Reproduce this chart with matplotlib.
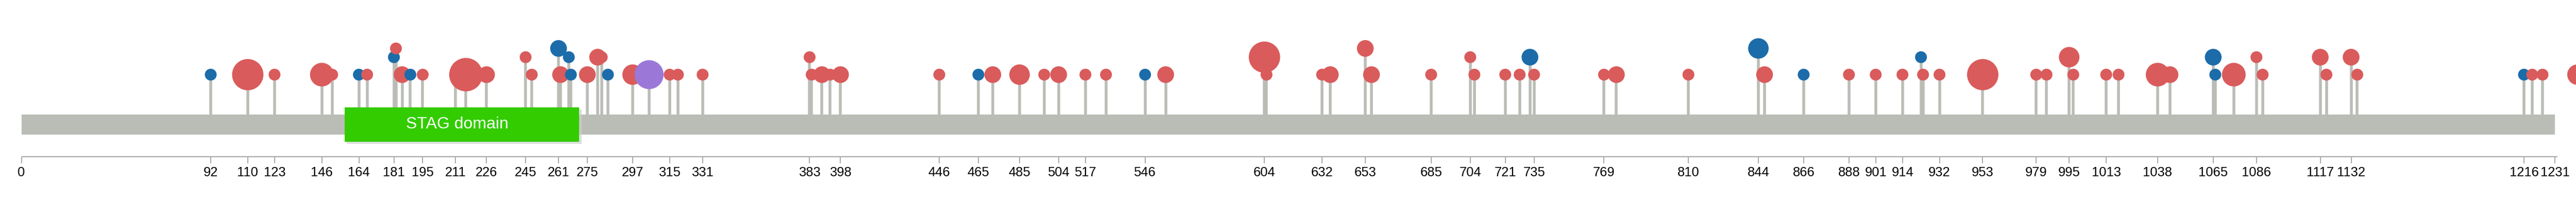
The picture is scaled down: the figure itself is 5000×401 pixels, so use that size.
import numpy as np
import matplotlib
matplotlib.use("Agg")
import matplotlib.pyplot as plt
from matplotlib.patches import Rectangle

# mutation positions, stack level (1 = lowest), sample count, type
positions = [92, 110, 123, 146, 151, 164, 168, 181, 182, 185, 189, 195, 211, 216, 226,
             245, 248, 261, 262, 266, 267, 275, 280, 282, 285, 297, 305, 315, 319, 331,
             383, 384, 389, 393, 398, 446, 465, 472, 485, 497, 504, 517, 527, 546, 556,
             604, 605, 632, 636, 653, 656, 685, 704, 706, 721, 728, 733, 735, 769, 775,
             810, 844, 847, 866, 888, 901, 914, 923, 924, 932, 953, 979, 984, 995, 997,
             1013, 1019, 1038, 1044, 1065, 1066, 1075, 1086, 1089, 1117, 1120, 1132, 1135,
             1216, 1220, 1225, 1242]
levels = [1, 1, 1, 1, 1, 1, 1, 2, 3, 1, 1, 1, 1, 1, 1,
          2, 1, 3, 1, 2, 1, 1, 2, 2, 1, 1, 1, 1, 1, 1,
          2, 1, 1, 1, 1, 1, 1, 1, 1, 1, 1, 1, 1, 1, 1,
          2, 1, 1, 1, 3, 1, 1, 2, 1, 1, 1, 2, 1, 1, 1,
          1, 3, 1, 1, 1, 1, 1, 2, 1, 1, 1, 1, 1, 2, 1,
          1, 1, 1, 1, 2, 1, 1, 2, 1, 2, 1, 2, 1,
          1, 1, 1, 1]
counts = [1, 7, 1, 4, 1, 1, 1, 1, 1, 2, 1, 1, 1, 8, 2,
          1, 1, 2, 2, 1, 1, 2, 2, 1, 1, 3, 6, 1, 1, 1,
          1, 1, 2, 1, 2, 1, 1, 2, 3, 1, 2, 1, 1, 1, 2,
          7, 1, 1, 2, 2, 2, 1, 1, 1, 1, 1, 2, 1, 1, 2,
          1, 3, 2, 1, 1, 1, 1, 1, 1, 1, 7, 1, 1, 3, 1,
          1, 1, 4, 2, 2, 1, 4, 1, 1, 2, 1, 2, 1,
          1, 1, 1, 3]
mut_types = ["T", "M", "M", "M", "M", "T", "M", "T", "M", "M", "T", "M", "M", "M", "M",
             "M", "M", "T", "M", "T", "T", "M", "M", "M", "T", "M", "O", "M", "M", "M",
             "M", "M", "M", "M", "M", "M", "T", "M", "M", "M", "M", "M", "M", "T", "M",
             "M", "M", "M", "M", "M", "M", "M", "M", "M", "M", "M", "T", "M", "M", "M",
             "M", "T", "M", "T", "M", "M", "M", "T", "M", "M", "M", "M", "M", "M", "M",
             "M", "M", "M", "M", "T", "T", "M", "M", "M", "M", "M", "M", "M",
             "T", "M", "M", "M"]

tick_labels = [0, 92, 110, 123, 146, 164, 181, 195, 211, 226, 245, 261, 275, 297, 315,
               331, 383, 398, 446, 465, 485, 504, 517, 546, 604, 632, 653, 685, 704, 721,
               735, 769, 810, 844, 866, 888, 901, 914, 932, 953, 979, 995, 1013, 1038,
               1065, 1086, 1117, 1132, 1216, 1231]

protein_length = 1231
domain_name = "STAG domain"
domain_start, domain_end = 157, 271

type_colors = {"M": "#da5b5b", "T": "#1c6caa", "O": "#9b78d8"}
level_y = {1: 145.3, 2: 111.3, 3: 94.3}
gray = "#babdb6"

W, H, DPI = 5000, 401, 100
px_per_aa = 3.9947
x0 = 41.5

fig = plt.figure(figsize=(W / DPI, H / DPI), dpi=DPI)
ax = fig.add_axes([0, 0, 1, 1])
ax.set_xlim(-x0 / px_per_aa, (W - x0) / px_per_aa)
ax.set_ylim(H, 0)
ax.axis("off")

bb_top, bb_bot = 223, 262

# stems
ys = [level_y[l] for l in levels]
ax.vlines(positions, ys, bb_top, color=gray, lw=5.5 * 72 / DPI, zorder=1)

# backbone
ax.add_patch(Rectangle((0, bb_top), protein_length, bb_bot - bb_top,
                       facecolor=gray, edgecolor="none", zorder=2))

# domain with a soft shadow
dom_top, dom_bot = 209, 276
ax.add_patch(Rectangle((domain_start + 1.2, dom_top + 4), domain_end - domain_start, dom_bot - dom_top,
                       facecolor="#cfd0cc", edgecolor="none", alpha=0.7, zorder=3))
ax.add_patch(Rectangle((domain_start, dom_top), domain_end - domain_start, dom_bot - dom_top,
                       facecolor="#33cc00", edgecolor="none", zorder=4))
ax.text(211.8, (dom_top + dom_bot) / 2, domain_name, color="white", fontsize=23,
        family="Liberation Sans", ha="center", va="center", zorder=5)

# heads, later positions drawn on top
r_px = 11.5 * np.sqrt(np.array(counts))
sizes = (2 * r_px * 72 / DPI) ** 2
cols = [type_colors[t] for t in mut_types]
for i in range(len(positions)):
    ax.scatter([positions[i]], [ys[i]], s=sizes[i], c=cols[i], edgecolors="none",
               zorder=6 + i * 0.01)

# position axis
axis_y = 305.3
ax.plot([0, protein_length + 1.2], [axis_y, axis_y], color="#aaaaaa", lw=2.2 * 72 / DPI,
        solid_capstyle="butt", zorder=2)
ax.vlines(tick_labels, axis_y, 317.7, color="#aaaaaa", lw=2 * 72 / DPI, zorder=2)
for t in tick_labels:
    ax.text(t, 336, str(t), fontsize=18.4, family="Liberation Sans",
            ha="center", va="center", color="black")

fig.savefig("out.png", dpi=DPI)
